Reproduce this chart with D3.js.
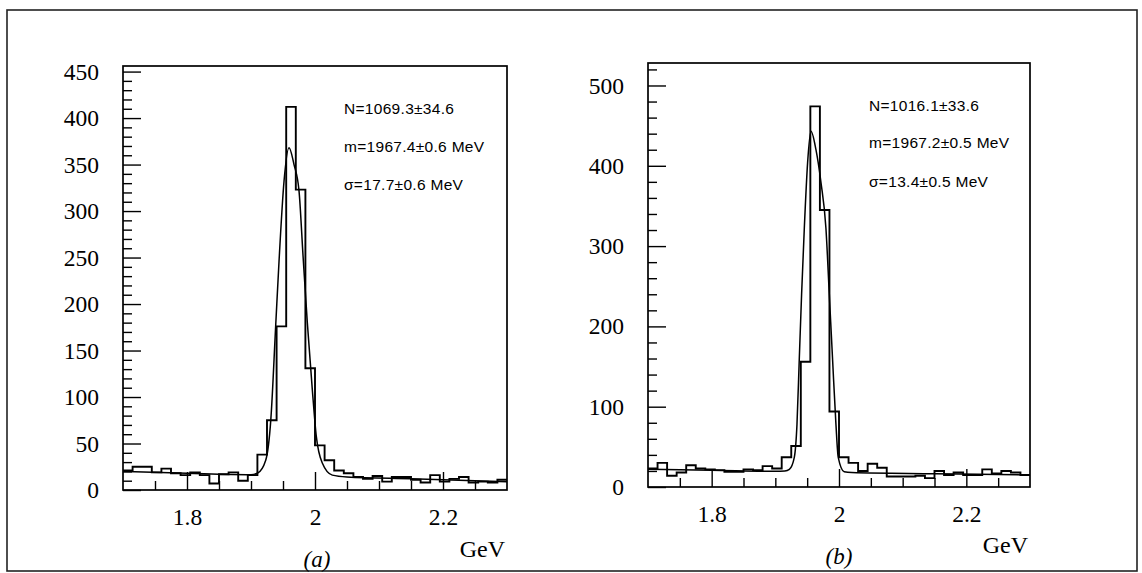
<!DOCTYPE html>
<html>
<head>
<meta charset="utf-8">
<script src="https://cdn.jsdelivr.net/npm/d3@7"></script>
<style>
  html, body { margin: 0; padding: 0; background: #fff; }
  svg { display: block; }
  .tick text { font-family: "Liberation Serif", "DejaVu Serif", serif; font-size: 23.5px; fill: #000; }
  .tick line { stroke: #000; stroke-width: 1.4; }
  .note { font-family: "Liberation Sans", Arial, sans-serif; font-size: 15.5px; letter-spacing: 0.3px; fill: #000; }
  .unit { font-family: "Liberation Serif", serif; font-size: 24px; fill: #000; }
  .tag { font-family: "Liberation Serif", serif; font-style: italic; font-size: 23px; fill: #000; }
</style>
</head>
<body>
<div id="chart"></div>
<script>
// histogram binning (GeV)
const xDomain = [1.7, 2.3];
const binWidth = 0.015;
const xMajorTicks = [1.8, 2, 2.2];

// panel (a): entries per bin
const countsA = [21, 25, 25, 19, 23, 18, 16, 19, 16, 7,
                 17, 19, 10, 16, 38, 75, 176, 412, 323, 131,
                 48, 32, 21, 18, 14, 12, 15, 9, 14, 14,
                 11, 8, 16, 9, 12, 14, 8, 9, 8, 11];
// fitted curve (a) [GeV, entries]
const fitA = [[1.70, 20], [1.80, 18], [1.90, 16.5], [1.91, 18], [1.923, 32],
              [1.931, 76], [1.9386, 177], [1.9438, 246], [1.9516, 332], [1.9594, 368],
              [1.9672, 350], [1.975, 322], [1.9813, 252], [1.988, 180], [1.9958, 108],
              [2.002, 58], [2.0114, 29], [2.027, 16], [2.05, 14], [2.15, 12], [2.30, 9]];
const notesA = ["N=1069.3\u00b134.6", "m=1967.4\u00b10.6 MeV", "\u03c3=17.7\u00b10.6 MeV"];
const yMajorA = [0, 50, 100, 150, 200, 250, 300, 350, 400, 450];

// panel (b)
const countsB = [23, 30, 14, 18, 27, 23, 22, 21, 19, 19,
                 22, 21, 26, 23, 37, 51, 156, 474, 345, 94,
                 37, 30, 20, 29, 24, 13, 13, 13, 14, 11,
                 20, 15, 18, 15, 15, 22, 17, 20, 18, 15];
const fitB = [[1.70, 22], [1.80, 21], [1.90, 19.5], [1.915, 20], [1.922, 22],
              [1.9298, 37], [1.934, 78], [1.9376, 159], [1.9413, 241], [1.9455, 322],
              [1.9507, 404], [1.956, 443], [1.9638, 420], [1.9717, 379], [1.9795, 322],
              [1.9847, 241], [1.9899, 159], [1.9952, 78], [1.9988, 37], [2.0082, 19],
              [2.02, 18], [2.15, 16.5], [2.30, 15]];
const notesB = ["N=1016.1\u00b133.6", "m=1967.2\u00b10.5 MeV", "\u03c3=13.4\u00b10.5 MeV"];
const yMajorB = [0, 100, 200, 300, 400, 500];

const W = 1142, H = 573;

const panels = [
  { counts: countsA, fit: fitA, notes: notesA, yMajor: yMajorA, yTop: 456, minorStep: 10, tag: "(a)",
    left: 123, right: 507, top: 66, bottom: 490, unitY: 557, tagX: 317, tagY: 567, noteY: [114, 152, 190] },
  { counts: countsB, fit: fitB, notes: notesB, yMajor: yMajorB, yTop: 528, minorStep: 20, tag: "(b)",
    left: 648, right: 1030, top: 63, bottom: 487, unitY: 553, tagX: 839, tagY: 564, noteY: [111, 148, 187] }
];

const svg = d3.select('#chart').append('svg')
  .attr('width', W)
  .attr('height', H);

// outer border of the figure
svg.append('rect')
  .attr('x', 7).attr('y', 10)
  .attr('width', 1130).attr('height', 561)
  .attr('fill', 'none')
  .attr('stroke', '#222')
  .attr('stroke-width', 1.6);

panels.forEach(p => {
  const x = d3.scaleLinear().domain(xDomain).range([p.left, p.right]);
  const y = d3.scaleLinear().domain([0, p.yTop]).range([p.bottom, p.top]);
  const g = svg.append('g');

  // minor ticks first, majors on top
  const yMinor = d3.range(0, p.yTop, p.minorStep).filter(v => !p.yMajor.includes(v));
  g.append('g')
    .attr('transform', `translate(${p.left},0)`)
    .call(d3.axisLeft(y).tickValues(yMinor).tickSize(-9).tickFormat(''))
    .call(a => a.select('.domain').remove());
  g.append('g')
    .attr('transform', `translate(${p.left},0)`)
    .call(d3.axisLeft(y).tickValues(p.yMajor).tickSize(-18).tickPadding(24).tickFormat(d3.format('d')))
    .call(a => a.select('.domain').remove());

  const xMinor = d3.range(1.75, 2.3, 0.05).filter(v => !xMajorTicks.some(t => Math.abs(t - v) < 1e-6));
  g.append('g')
    .attr('transform', `translate(0,${p.bottom})`)
    .call(d3.axisBottom(x).tickValues(xMinor).tickSize(-9).tickFormat(''))
    .call(a => a.select('.domain').remove());
  g.append('g')
    .attr('transform', `translate(0,${p.bottom})`)
    .call(d3.axisBottom(x).tickValues(xMajorTicks).tickSize(-18).tickPadding(18).tickFormat(d => String(d)))
    .call(a => a.select('.domain').remove());

  // plot frame
  g.append('rect')
    .attr('x', p.left).attr('y', p.top)
    .attr('width', p.right - p.left).attr('height', p.bottom - p.top)
    .attr('fill', 'none')
    .attr('stroke', '#000')
    .attr('stroke-width', 1.7);

  // histogram outline
  const steps = p.counts.map((c, i) => [xDomain[0] + i * binWidth, c]);
  steps.push([xDomain[1], p.counts[p.counts.length - 1]]);
  g.append('path')
    .datum(steps)
    .attr('fill', 'none')
    .attr('stroke', '#000')
    .attr('stroke-width', 1.9)
    .attr('d', d3.line().x(d => x(d[0])).y(d => y(d[1])).curve(d3.curveStepAfter));

  // fit
  g.append('path')
    .datum(p.fit)
    .attr('fill', 'none')
    .attr('stroke', '#000')
    .attr('stroke-width', 1.5)
    .attr('d', d3.line().x(d => x(d[0])).y(d => y(d[1])).curve(d3.curveMonotoneX));

  // fit results
  g.selectAll('text.note')
    .data(p.notes)
    .join('text')
    .attr('class', 'note')
    .attr('x', p.left + 221)
    .attr('y', (d, i) => p.noteY[i])
    .text(d => d);

  g.append('text')
    .attr('class', 'unit')
    .attr('x', p.right - 2)
    .attr('y', p.unitY)
    .attr('text-anchor', 'end')
    .text('GeV');

  g.append('text')
    .attr('class', 'tag')
    .attr('x', p.tagX)
    .attr('y', p.tagY)
    .attr('text-anchor', 'middle')
    .text(p.tag);
});
</script>
</body>
</html>
